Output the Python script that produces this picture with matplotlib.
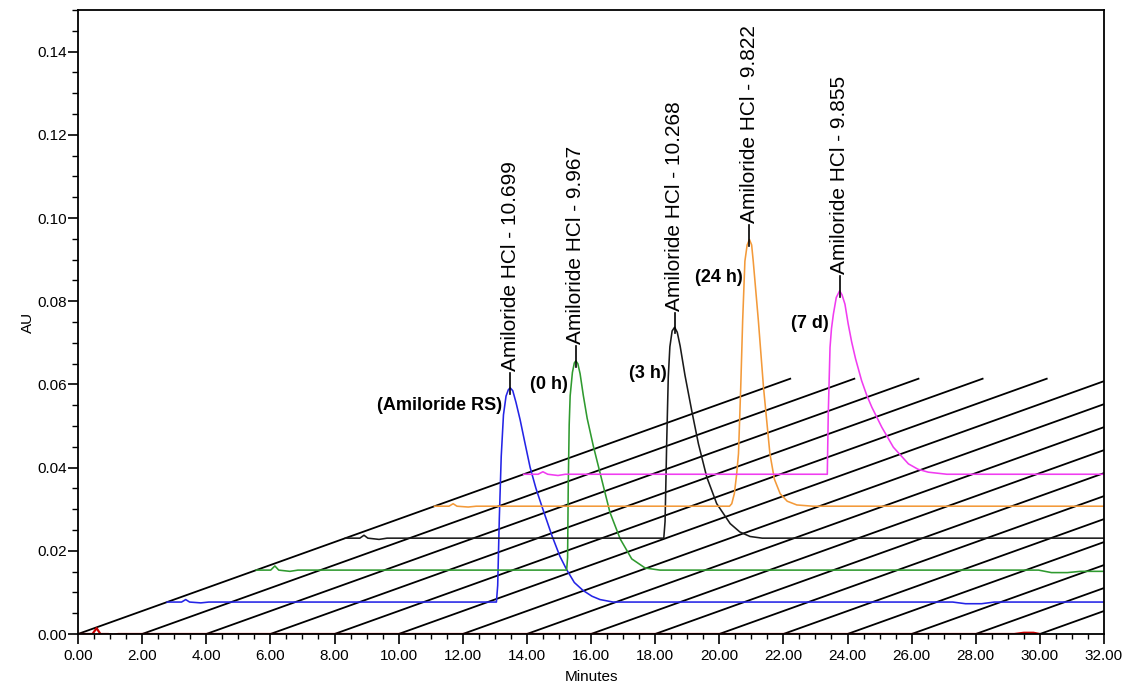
import numpy as np
import matplotlib
matplotlib.use("Agg")
import matplotlib.pyplot as plt

# ---------------- data (raw chromatograms: minutes, AU) ----------------
red_t = [0.0, 0.45, 0.58, 0.70, 0.95, 1.10, 1.25, 29.2, 29.5, 29.8, 30.0]
red_v = [0.0, 0.0, 0.0014, 0.0, 0.0, -0.0002, 0.0, 0.0, 0.0003, 0.0003, 0.0]

blue_t = [0.0, 0.45, 0.58, 0.70, 1.05, 1.3, 10.27, 10.31, 10.36, 10.42, 10.49, 10.57,
          10.64, 10.699, 10.78, 10.88, 11.01, 11.15, 11.32, 11.50, 11.68, 12.00, 12.25,
          12.46, 12.70, 12.97, 13.25, 13.50, 13.91, 24.5, 24.9, 25.4, 25.8, 30.0]
blue_v = [0.0, 0.0, 0.0006, 0.0, -0.0002, 0.0, 0.0, 0.004, 0.020, 0.035, 0.045, 0.0495,
          0.051, 0.0515, 0.0508, 0.0480, 0.0438, 0.0386, 0.0324, 0.0274, 0.0232, 0.0160,
          0.0110, 0.0078, 0.0047, 0.0028, 0.0014, 0.0006, 0.0, 0.0, -0.0004, -0.0004,
          0.0, 0.0]

green_t = [0.0, 0.45, 0.58, 0.70, 1.05, 1.3, 9.68, 9.71, 9.73, 9.76, 9.79, 9.86, 9.92,
           9.967, 10.03, 10.10, 10.20, 10.32, 10.51, 10.77, 11.03, 11.35, 11.71, 12.13,
           12.59, 24.4, 24.8, 25.3, 25.7, 26.4, 30.0]
green_v = [0.0, 0.0, 0.0010, 0.0, -0.0003, 0.0, 0.0, 0.003, 0.020, 0.035, 0.0419, 0.0475,
           0.0498, 0.0503, 0.0496, 0.0472, 0.0420, 0.0365, 0.0299, 0.0219, 0.0139, 0.0075,
           0.0027, 0.0005, 0.0, 0.0, -0.0006, -0.0006, -0.0003, -0.0003, -0.0003]

black_t = [0.0, 0.45, 0.58, 0.70, 1.05, 1.3, 9.93, 9.97, 10.00, 10.02, 10.07, 10.12,
           10.19, 10.268, 10.35, 10.44, 10.59, 10.80, 11.01, 11.27, 11.58, 12.00, 12.30,
           12.62, 13.0, 30.0]
black_v = [0.0, 0.0, 0.0007, 0.0, -0.0003, 0.0, 0.0, 0.004, 0.015, 0.0227, 0.0387, 0.046,
           0.0498, 0.0507, 0.0495, 0.0462, 0.0392, 0.0307, 0.0227, 0.0147, 0.0083, 0.0035,
           0.0015, 0.0004, 0.0, 0.0]

orange_t = [0.0, 0.45, 0.58, 0.70, 1.05, 1.3, 9.20, 9.27, 9.35, 9.42, 9.48, 9.55, 9.61,
            9.68, 9.75, 9.822, 9.89, 9.94, 10.10, 10.26, 10.46, 10.60, 10.78, 11.00,
            11.30, 11.8, 30.0]
orange_v = [0.0, 0.0, 0.0006, 0.0, -0.0002, 0.0, 0.0, 0.0006, 0.003, 0.0075, 0.0126,
            0.0286, 0.0446, 0.0589, 0.0628, 0.0641, 0.0628, 0.0589, 0.0446, 0.0286, 0.0126,
            0.0065, 0.0030, 0.0012, 0.0003, 0.0, 0.0]

magenta_t = [0.0, 0.45, 0.60, 0.75, 1.07, 1.3, 9.47, 9.48, 9.50, 9.555, 9.60, 9.66, 9.75,
             9.855, 9.93, 10.02, 10.12, 10.23, 10.35, 10.54, 10.70, 10.86, 11.17, 11.53,
             12.00, 12.30, 12.62, 13.2, 30.0]
magenta_v = [0.0, 0.0, 0.0006, 0.0, -0.0003, 0.0, 0.0, 0.005, 0.0145, 0.0305, 0.035,
             0.0385, 0.0425, 0.0441, 0.0431, 0.0409, 0.0362, 0.0318, 0.0278, 0.0225, 0.0190,
             0.0161, 0.0113, 0.0065, 0.0025, 0.0012, 0.0005, 0.0, 0.0]

trace_times = [red_t, blue_t, green_t, black_t, orange_t, magenta_t]
trace_values = [red_v, blue_v, green_v, black_v, orange_v, magenta_v]
trace_colors = ["#c80000", "#2424e6", "#2f9a2f", "#1a1a1a", "#f39a3a", "#f03cf0"]

peak_rt = [None, 10.699, 9.967, 10.268, 9.822, 9.855]
peak_name = "Amiloride HCl"
sample_labels = ["(Amiloride RS)", "(0 h)", "(3 h)", "(24 h)", "(7 d)"]
# label anchor (right edge x, centre y) in plot coordinates
sample_label_pos = [(13.215, 0.0550), (15.29, 0.0599), (18.36, 0.0627),
                    (20.72, 0.0858), (23.43, 0.0747)]

# 3-D stacking offsets
DX, DY = 2.78, 0.00768
N_DEPTH = 8
grid_starts = np.arange(0, 31, 2)

# ---------------- figure ----------------
FONT = "Liberation Sans"
plt.rcParams["font.family"] = [FONT, "DejaVu Sans"]

W, H, DPI = 1135, 684, 100
fig = plt.figure(figsize=(W / DPI, H / DPI), dpi=DPI)
ax = fig.add_axes([78 / W, 1 - 634 / H, (1104 - 78) / W, (634 - 10) / H])

# diagonal time-grid lines
for t0 in grid_starts:
    ax.plot([t0, t0 + N_DEPTH * DX], [0, N_DEPTH * DY], color="black", lw=1.3,
            zorder=1, solid_capstyle="butt")

for k, (tt, vv, c) in enumerate(zip(trace_times, trace_values, trace_colors)):
    x = np.asarray(tt) + k * DX
    y = np.asarray(vv) + k * DY
    ax.plot(x, y, color=c, lw=1.6 if k == 0 else 1.15, zorder=2,
            solid_joinstyle="round")

    if peak_rt[k] is not None:
        pv = max(vv)
        px = peak_rt[k] + k * DX
        py = pv + k * DY
        ax.plot([px, px], [py - 0.0015, py + 0.0035], color="black", lw=1.2,
                zorder=4, clip_on=False)
        ax.text(px, py + 0.0040, f"{peak_name} - {peak_rt[k]:.3f}", rotation=90,
                ha="center", va="bottom", fontsize=15, color="black", clip_on=False)

for lab, (lx, ly) in zip(sample_labels, sample_label_pos):
    ax.text(lx, ly, lab, ha="right", va="center", fontsize=13, fontweight="bold")

ax.set_xlim(0, 32)
ax.set_ylim(0, 0.15)
ax.set_xticks(np.arange(0, 32.01, 2))
ax.set_xticks(np.arange(0, 32.01, 0.5), minor=True)
ax.set_yticks(np.arange(0, 0.141, 0.02))
ax.set_yticks(np.arange(0, 0.1501, 0.005), minor=True)
ax.xaxis.set_major_formatter(matplotlib.ticker.FormatStrFormatter("%.2f"))
ax.yaxis.set_major_formatter(matplotlib.ticker.FormatStrFormatter("%.2f"))
ax.tick_params(axis="x", which="major", direction="out", length=7, width=1.2,
               labelsize=11, pad=4)
ax.tick_params(axis="x", which="minor", direction="out", length=3.5, width=1.0)
ax.tick_params(axis="y", which="major", direction="out", length=7, width=1.2,
               labelsize=11, pad=1)
ax.tick_params(axis="y", which="minor", direction="out", length=4.5, width=1.0)
for s in ax.spines.values():
    s.set_linewidth(1.3)

ax.set_xlabel("Minutes", fontsize=11, labelpad=5)
ax.set_ylabel("AU", fontsize=11, labelpad=2)

fig.savefig("out.png", dpi=DPI)
